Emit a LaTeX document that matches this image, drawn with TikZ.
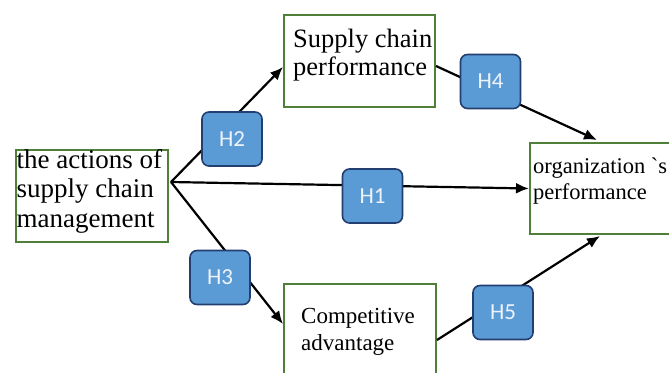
\documentclass[tikz,border=0pt]{standalone}
\usepackage{fontspec}
\setmainfont{Liberation Serif}
\newfontfamily\hfont{Carlito}
\usetikzlibrary{arrows.meta}
\definecolor{boxgreen}{HTML}{4F7F38}
\definecolor{hfill}{HTML}{5B9BD5}
\definecolor{hline}{HTML}{223F70}
\definecolor{htext}{HTML}{EEF3FA}
\tikzset{
  framebox/.style={draw=boxgreen, line width=2pt, fill=white, inner sep=0pt},
  boxtext/.style={align=left, inner sep=0pt, text=black},
  hyp/.style={draw=hline, fill=hfill, line width=1.6pt, rounded corners=7pt,
    minimum width=60pt, minimum height=54pt, inner sep=0pt,
    font=\hfont\fontsize{23}{23}\selectfont, text=htext},
  arr/.style={draw=black, line width=2.2pt, -{Latex[length=13pt,width=11pt]}}
}
\begin{document}
\begin{tikzpicture}[x=1pt, y=-1pt]
\useasboundingbox (0,0) rectangle (669,372);

% boxes
\node[framebox, anchor=north west, minimum width=152pt, minimum height=92pt] (acts) at (15,149) {};
\node[framebox, anchor=north west, minimum width=151pt, minimum height=92pt] (sup) at (283,14) {};
\node[framebox, anchor=north west, minimum width=160pt, minimum height=91pt] (org) at (529,142) {};
\node[framebox, anchor=north west, minimum width=152pt, minimum height=95pt] (comp) at (283,283) {};

% box texts (anchored on the baseline of the last line)
\node[boxtext, anchor=base west, font=\fontsize{27}{29.5}\selectfont] (actsT) at (16.5,227) {the actions of\\supply chain\\management};
\node[boxtext, anchor=base west, font=\fontsize{26.5}{28}\selectfont] (supT) at (293,75) {Supply chain\\performance};
\node[boxtext, anchor=base west, font=\fontsize{22.5}{26}\selectfont] (orgT) at (533,199) {organization \textasciigrave s\\performance};
\node[boxtext, anchor=base west, font=\fontsize{23}{27}\selectfont] (compT) at (301,350) {Competitive\\advantage};

% connectors
\coordinate (src) at ([xshift=2pt, yshift=14pt]acts.east);
\draw[arr] (src) -- ([yshift=-6pt]sup.west);
\draw[arr] (src) -- (org.west);
\draw[arr] (src) -- ([yshift=7.5pt]comp.west);
\draw[arr] ([yshift=-5pt]sup.east) -- ([xshift=68pt, yshift=2pt]org.north west);
\draw[arr] ([yshift=-8.5pt]comp.east) -- ([xshift=71pt, yshift=-1pt]org.south west);

% hypothesis labels
\node[hyp] (h2) at (232,139) {H2};
\node[hyp] (h1) at (372.5,196) {H1};
\node[hyp] (h3) at (220,277.5) {H3};
\node[hyp] (h4) at (490.5,81.5) {H4};
\node[hyp] (h5) at (503,312.5) {H5};
\end{tikzpicture}
\end{document}
